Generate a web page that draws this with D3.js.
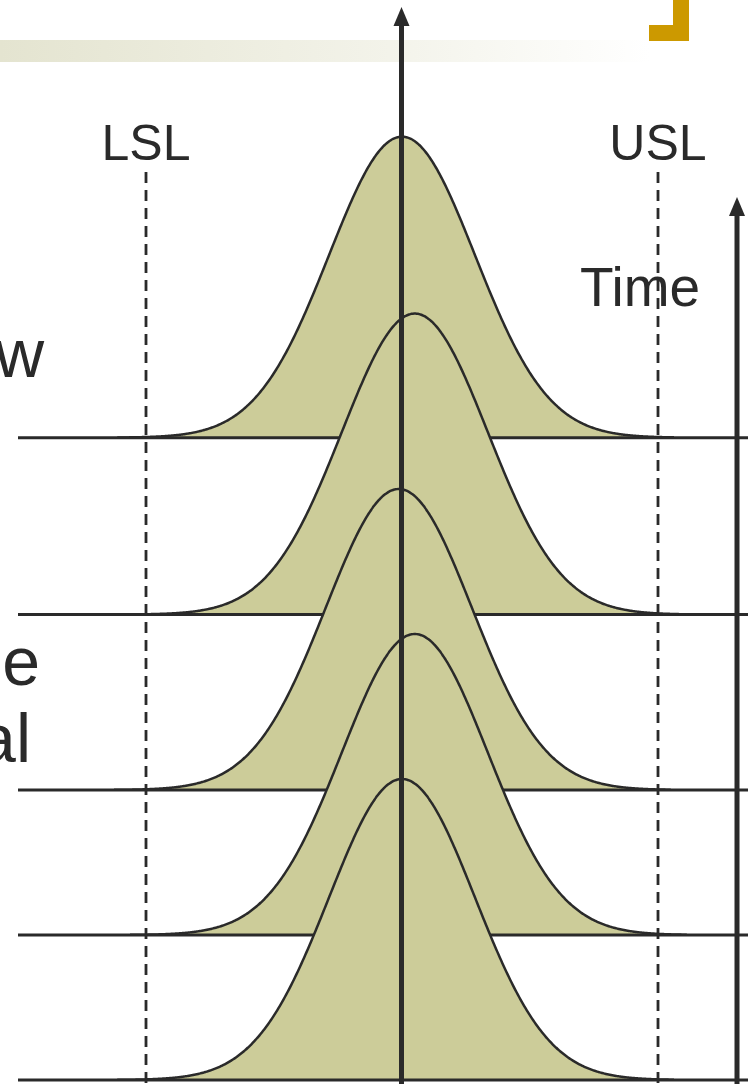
<!DOCTYPE html>
<html><head><meta charset="utf-8">
<script src="https://cdn.jsdelivr.net/npm/d3@7"></script>
<style>html,body{margin:0;padding:0;background:#fff;overflow:hidden}svg{display:block}</style>
</head><body>
<script>
// ---- data ----
const sampleTimes = [4.43, 3.21, 2, 1, 0];      // time of each distribution (top to bottom)
const sampleMeans = [0, 0.2, -0.05, 0.2, 0];    // process mean of each sample
const sampleSigmas = [1.14, 1.14, 1.14, 1.14, 1.14];
const specLimits = [{label: "LSL", value: -4}, {label: "USL", value: 4}];
const target = 0;
const timeLabel = "Time";
const sideTexts = ["w", "le", "al"];            // cut-off slide text on the left

const W = 748, H = 1084;
const ink = "#2a2a2a", fillCol = "#cccc99";

const svg = d3.select("body").append("svg").attr("width", W).attr("height", H);

// scales
const x = d3.scaleLinear().domain([-4, 4]).range([146, 658]);
const y = d3.scaleLinear().domain([0, 1]).range([1080, 935]);
const peak = 1 / (sampleSigmas[0] * Math.sqrt(2 * Math.PI));
const h = d3.scaleLinear().domain([0, peak]).range([0, 301]);

// decorative header band
const defs = svg.append("defs");
const grad = defs.append("linearGradient").attr("id", "band").attr("x1", "0").attr("x2", "1");
grad.append("stop").attr("offset", "0").attr("stop-color", "#e4e4d0");
grad.append("stop").attr("offset", "0.6").attr("stop-color", "#f3f3ea");
grad.append("stop").attr("offset", "1").attr("stop-color", "#ffffff");
svg.append("rect").attr("x", 0).attr("y", 40).attr("width", 650).attr("height", 22).attr("fill", "url(#band)");
svg.append("path").attr("d", "M649,25H673V0H689V41H649Z").attr("fill", "#cc9900");

// left cut-off text
const sideG = svg.append("g").attr("font-family", "Liberation Sans, Arial, sans-serif")
  .attr("font-size", 68).attr("fill", ink).attr("text-anchor", "end");
sideG.append("text").attr("x", 44).attr("y", 377).text(sideTexts[0]);
sideG.append("text").attr("x", 40).attr("y", 685).text(sideTexts[1]);
sideG.append("text").attr("x", 31).attr("y", 762).text(sideTexts[2]);

// distributions
function density(m, s, v) { return Math.exp(-0.5 * ((v - m) / s) ** 2) / (s * Math.sqrt(2 * Math.PI)); }

sampleTimes.forEach((t, i) => {
  const m = sampleMeans[i], s = sampleSigmas[i];
  const xs = d3.range(m - 4.45, m + 4.25 + 1e-9, 0.02);
  const base = y(t);
  const pts = xs.map(v => [v, density(m, s, v)]);
  const area = d3.area().x(d => x(d[0])).y0(base).y1(d => base - h(d[1])).curve(d3.curveBasis);
  const line = d3.line().x(d => x(d[0])).y(d => base - h(d[1])).curve(d3.curveBasis);
  svg.append("path").attr("d", area(pts)).attr("fill", fillCol);
  svg.append("path").attr("d", line(pts)).attr("fill", "none").attr("stroke", ink).attr("stroke-width", 2.5);
  svg.append("line").attr("x1", 18).attr("x2", W).attr("y1", base).attr("y2", base)
    .attr("stroke", ink).attr("stroke-width", 3);
});

// spec limit dashed lines + labels
specLimits.forEach(d => {
  svg.append("line").attr("x1", x(d.value)).attr("x2", x(d.value)).attr("y1", 172).attr("y2", H)
    .attr("stroke", ink).attr("stroke-width", 2.8).attr("stroke-dasharray", "11,7");
  svg.append("text").attr("x", x(d.value)).attr("y", 160).attr("text-anchor", "middle")
    .attr("font-family", "Liberation Sans, Arial, sans-serif").attr("font-size", 50).attr("fill", ink)
    .text(d.label);
});

// target (center) axis with arrow
const cx = x(target) - 0.5;
svg.append("line").attr("x1", cx).attr("x2", cx).attr("y1", H).attr("y2", 24)
  .attr("stroke", ink).attr("stroke-width", 5);
svg.append("path").attr("d", `M${cx},7L${cx + 8},26L${cx - 8},26Z`).attr("fill", ink);

// time axis with arrow
const tx = 737;
svg.append("line").attr("x1", tx).attr("x2", tx).attr("y1", H).attr("y2", 214)
  .attr("stroke", ink).attr("stroke-width", 5);
svg.append("path").attr("d", `M${tx},197L${tx + 8},216L${tx - 8},216Z`).attr("fill", ink);
svg.append("text").attr("x", 640).attr("y", 306).attr("text-anchor", "middle")
  .attr("font-family", "Liberation Sans, Arial, sans-serif").attr("font-size", 55).attr("fill", ink)
  .text(timeLabel);
</script>
</body></html>
